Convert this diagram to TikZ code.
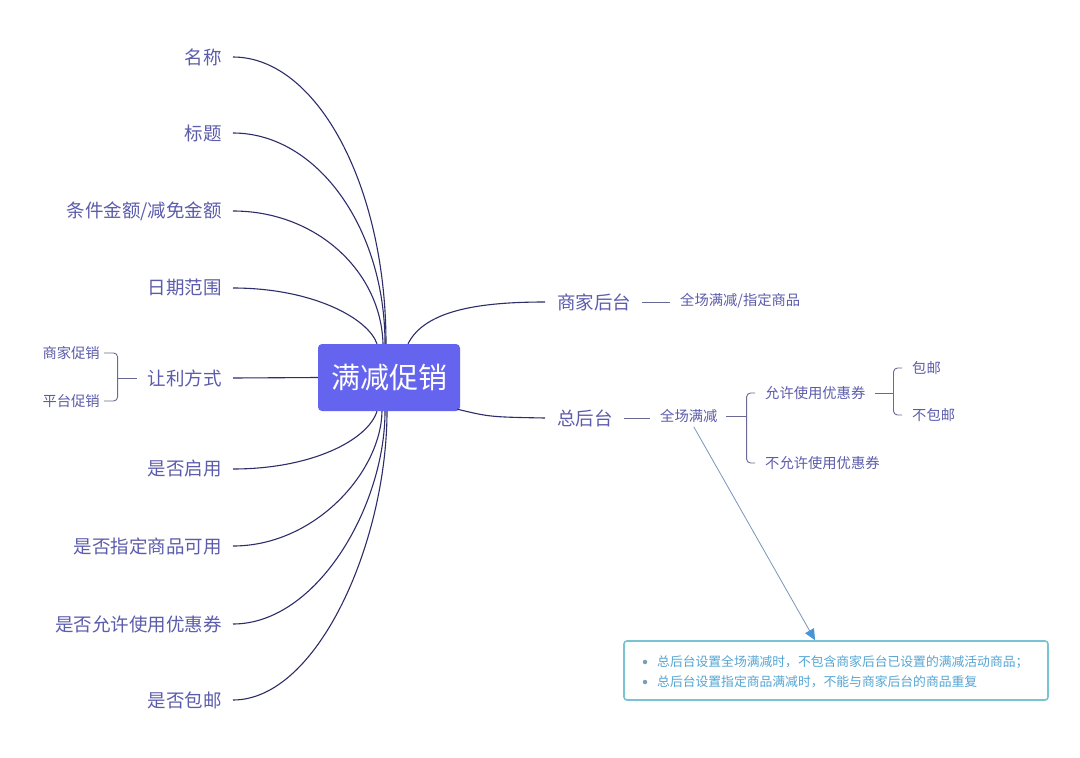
\documentclass[tikz,border=0pt]{standalone}
\usepackage{fontspec}
\setmainfont{Noto Sans CJK SC}
\usetikzlibrary{arrows.meta}
\definecolor{txt}{RGB}{92,92,172}
\definecolor{ln}{RGB}{45,45,105}
\definecolor{br}{RGB}{105,105,150}
\definecolor{hub}{RGB}{100,100,238}
\definecolor{note}{RGB}{85,165,210}
\definecolor{notebd}{RGB}{120,195,212}
\definecolor{arr}{RGB}{120,150,185}
\definecolor{arrhead}{RGB}{70,150,215}
\definecolor{bul}{RGB}{120,160,185}
\begin{document}
\begin{tikzpicture}[x=1pt,y=-1pt,
 big/.style={font=\fontsize{18.5}{20}\selectfont, text=txt, inner sep=0pt},
 small/.style={font=\fontsize{14.3}{16}\selectfont, text=txt, inner sep=0pt},
 notetxt/.style={font=\fontsize{12.8}{14}\selectfont, text=note, inner sep=0pt, anchor=west},
 link/.style={draw=ln, line width=1.1pt},
 thinl/.style={draw=br, line width=0.9pt},
]
\useasboundingbox[fill=white] (0,0) rectangle (1080,758);

% hub
\node[fill=hub, rounded corners=4pt, minimum width=142pt, minimum height=67pt, text=white,
      font=\fontsize{29}{32}\selectfont, inner sep=0pt] (c) at (389,377.5) {满减促销};

% left labels
\node[big, anchor=east] (l1) at (222,57) {名称};
\node[big, anchor=east] (l2) at (222,133) {标题};
\node[big, anchor=east] (l3) at (222,211) {条件金额/减免金额};
\node[big, anchor=east] (l4) at (222,288) {日期范围};
\node[big, anchor=east] (lr) at (222,378) {让利方式};
\node[big, anchor=east] (l5) at (222,469) {是否启用};
\node[big, anchor=east] (l6) at (222,546) {是否指定商品可用};
\node[big, anchor=east] (l7) at (222,624) {是否允许使用优惠券};
\node[big, anchor=east] (l8) at (222,700) {是否包邮};

\node[small, anchor=east] (s1) at (100,353) {商家促销};
\node[small, anchor=east] (s2) at (100,401) {平台促销};

% left connectors
\draw[link] ([xshift=-3pt]c.north) .. controls (386,186) and (317,57) .. ([xshift=11pt]l1.east);
\draw[link] ([xshift=-4pt]c.north) .. controls (385,228) and (317,133) .. ([xshift=11pt]l2.east);
\draw[link] ([xshift=-6pt]c.north) .. controls (381,271) and (316,211) .. ([xshift=11pt]l3.east);
\draw[link] ([xshift=-12pt]c.north) .. controls (368,318) and (312,288) .. ([xshift=11pt]l4.east);
\draw[link] (c.west) -- ([xshift=11pt]lr.east);
\draw[link] ([xshift=-12pt]c.south) .. controls (368,440) and (312,469) .. ([xshift=11pt]l5.east);
\draw[link] ([xshift=-7pt]c.south) .. controls (381,472) and (315,546) .. ([xshift=11pt]l6.east);
\draw[link] ([xshift=-4pt]c.south) .. controls (385,506) and (317,624) .. ([xshift=11pt]l7.east);
\draw[link] ([xshift=-2pt]c.south) .. controls (387,541) and (318,700) .. ([xshift=11pt]l8.east);

% left bracket
\draw[thinl, rounded corners=4pt] ([xshift=4pt]s1.east) -| ([xshift=-30pt]lr.west) |- ([xshift=4pt]s2.east);
\draw[thinl] ([xshift=-30pt]lr.west) -- ([xshift=-11pt]lr.west);

% right side
\node[big, anchor=west] (sj) at (557,302) {商家后台};
\node[small, anchor=west] (qc) at (680,301) {全场满减/指定商品};
\node[big, anchor=west] (zh) at (557,418) {总后台};
\node[small, anchor=west] (qm) at (660,416) {全场满减};
\node[small, anchor=west] (yx) at (765,393) {允许使用优惠券};
\node[small, anchor=west] (byx) at (765,463) {不允许使用优惠券};
\node[small, anchor=west] (by) at (912,368) {包邮};
\node[small, anchor=west] (bby) at (912,415) {不包邮};

\draw[link] ([xshift=19pt]c.north) .. controls (425,310) and (480,302) .. ([xshift=-12pt]sj.west);
\draw[link] ([xshift=-3pt,yshift=2pt]c.south east) .. controls (490,417) .. ([xshift=-12pt]zh.west);

\draw[thinl] ([xshift=11pt]sj.east) -- ([xshift=-10pt]sj.east -| qc.west);
\draw[thinl] ([xshift=11pt]zh.east) -- ([xshift=-10pt]zh.east -| qm.west);
\draw[thinl] ([xshift=8pt]qm.east) -- ([xshift=29pt]qm.east);
\draw[thinl, rounded corners=4pt] ([xshift=-10pt]yx.west) -| ([xshift=29pt]qm.east) |- ([xshift=-10pt]byx.west);
\draw[thinl] ([xshift=9pt]yx.east) -- ([xshift=28pt]yx.east);
\draw[thinl, rounded corners=4pt] ([xshift=-10pt]by.west) -| ([xshift=28pt]yx.east) |- ([xshift=-10pt]bby.west);

% callout
\node[draw=notebd, line width=1.6pt, rounded corners=3pt, minimum width=424pt, minimum height=59pt,
      inner sep=0pt, fill=white] (box) at (836,670.5) {};
\node[circle, fill=bul, inner sep=0pt, minimum size=4.5pt] (d1) at (645,662) {};
\node[circle, fill=bul, inner sep=0pt, minimum size=4.5pt] (d2) at (645,682) {};
\node[notetxt] (t1) at (657,662) {总后台设置全场满减时，不包含商家后台已设置的满减活动商品；};
\node[notetxt] (t2) at (657,682) {总后台设置指定商品满减时，不能与商家后台的商品重复};

\draw[draw=arr, line width=0.8pt, -{Triangle[length=11pt,width=10pt,color=arrhead,fill=arrhead]}]
  ([xshift=5pt,yshift=-4pt]qm.south) -- ([xshift=-21pt]box.north);
\end{tikzpicture}
\end{document}
